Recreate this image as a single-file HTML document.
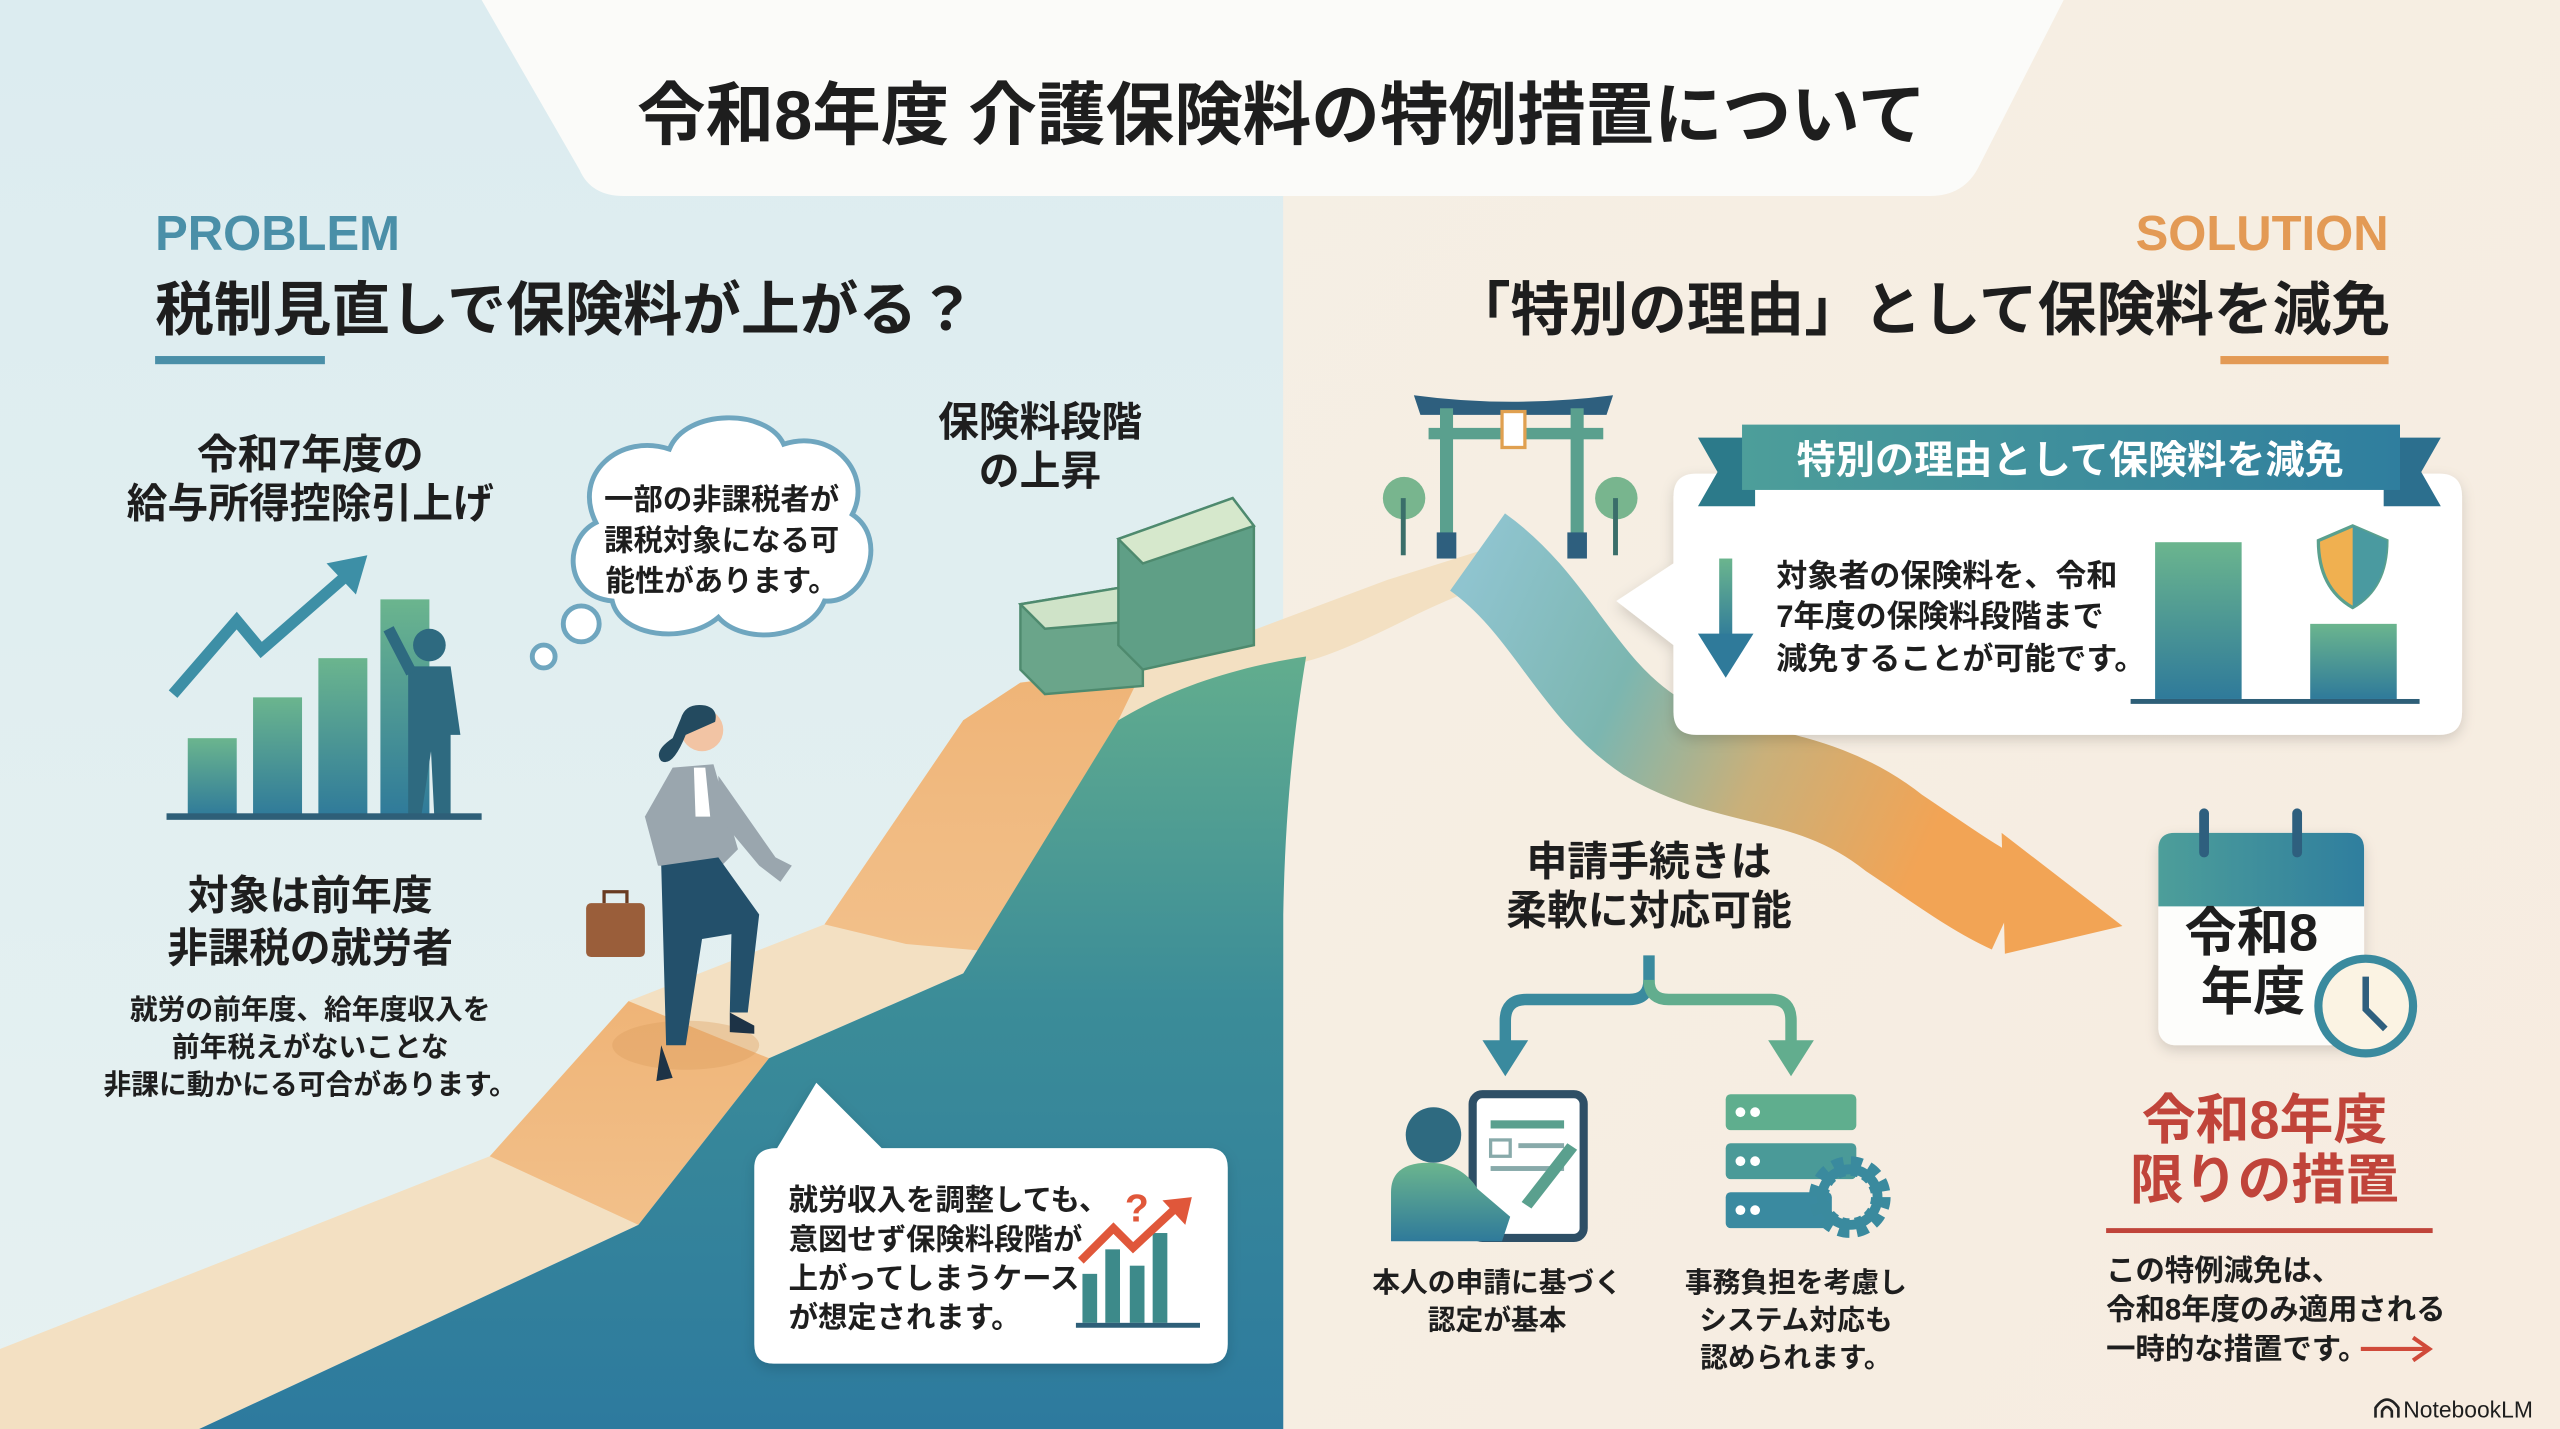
<!DOCTYPE html>
<html><head><meta charset="utf-8"><style>
html,body{margin:0;padding:0;width:2560px;height:1429px;overflow:hidden;background:#f5eee3}
svg{display:block}
text{font-family:"Liberation Sans","Noto Sans CJK JP",sans-serif;font-weight:700;fill:#1e1e1e}
</style></head><body>
<svg width="2560" height="1429" viewBox="0 0 1568 875" preserveAspectRatio="none" xmlns="http://www.w3.org/2000/svg">
<defs>
<linearGradient id="lbg" x1="0" y1="0" x2="0" y2="1"><stop offset="0" stop-color="#dcecf0"/><stop offset="1" stop-color="#e6f1f1"/></linearGradient>
<linearGradient id="rbg" x1="0" y1="0" x2="1" y2="1"><stop offset="0" stop-color="#f5efe4"/><stop offset="1" stop-color="#f7ece0"/></linearGradient>
<linearGradient id="mtn" x1="0" y1="0" x2="0" y2="1"><stop offset="0" stop-color="#62ad8e"/><stop offset="0.45" stop-color="#3b8c98"/><stop offset="1" stop-color="#2d7a9e"/></linearGradient>
<linearGradient id="bar" x1="0" y1="0" x2="0" y2="1"><stop offset="0" stop-color="#6bb58e"/><stop offset="1" stop-color="#2f7a9a"/></linearGradient>
<linearGradient id="rib" x1="0" y1="0" x2="1" y2="0.3"><stop offset="0" stop-color="#8fc4cf"/><stop offset="0.35" stop-color="#7cb6b0"/><stop offset="0.65" stop-color="#c9b07a"/><stop offset="1" stop-color="#f2a455"/></linearGradient>
<linearGradient id="ban" x1="0" y1="0" x2="1" y2="0"><stop offset="0" stop-color="#4d9e9a"/><stop offset="1" stop-color="#2f7e9e"/></linearGradient>
<linearGradient id="org" x1="0" y1="0" x2="0" y2="1"><stop offset="0" stop-color="#efb477"/><stop offset="1" stop-color="#f2c08a"/></linearGradient>
<filter id="sh" x="-10%" y="-10%" width="120%" height="130%"><feDropShadow dx="0" dy="3" stdDeviation="4" flood-color="#000" flood-opacity="0.15"/></filter>
</defs>
<rect x="0" y="0" width="786" height="875" fill="url(#lbg)"/>
<rect x="786" y="0" width="782" height="875" fill="url(#rbg)"/>
<path d="M295 0 L1264 0 L1212 102 Q1203 120 1182 120 L382 120 Q362 120 355 104 Z" fill="#fbfbf9"/>
<text x="785" y="85" font-size="42" text-anchor="middle" fill="#111">令和8年度 介護保険料の特例措置について</text>

<path d="M0 826 L300 708 L385 613 L505 566 L590 441 L625 418 L700 405 L770 385 L850 355 L930 330 L948 345 Q900 360 860 380 Q820 400 800 405 L786 420 L685 441 L590 596 L471 648 L391 750 L122 875 L0 875 Z" fill="#f3e0c2"/>
<path d="M300 708 L385 613 L471 648 L391 750 Z" fill="url(#org)"/>
<path d="M505 566 L590 441 L625 418 L700 410 L685 441 L600 582 L555 578 Z" fill="url(#org)"/>
<path d="M122 875 L391 750 L471 648 L590 596 L685 441 C720 420 760 408 800 402 C792 450 787 500 786 560 L786 875 Z" fill="url(#mtn)"/>
<path d="M905 338 C950 370 965 420 1010 450 C1060 480 1110 470 1160 510 C1190 530 1210 545 1232 555" fill="none" stroke="url(#rib)" stroke-width="58" stroke-linecap="butt"/>
<path d="M1226 510 L1300 567 L1228 584 Z" fill="#f2a455"/>

<text x="95" y="153" font-size="30" style="fill:#4a8fa8">PROBLEM</text>
<text x="95" y="202" font-size="36">税制見直しで保険料が上がる？</text>
<rect x="95" y="218" width="104" height="5" fill="#4a8fa8"/>
<text x="1463" y="153" font-size="30" style="fill:#e39a55" text-anchor="end">SOLUTION</text>
<text x="1464" y="202" font-size="36" text-anchor="end">「特別の理由」として保険料を減免</text>
<rect x="1360" y="218" width="103" height="5" fill="#e39a55"/>

<text x="190" y="287" font-size="25" text-anchor="middle">令和7年度の</text>
<text x="190" y="317" font-size="25" text-anchor="middle">給与所得控除引上げ</text>
<rect x="115" y="452" width="30" height="48" fill="url(#bar)"/>
<rect x="155" y="427" width="30" height="73" fill="url(#bar)"/>
<rect x="195" y="403" width="30" height="97" fill="url(#bar)"/>
<rect x="233" y="367" width="30" height="133" fill="url(#bar)"/>
<path d="M106 425 L145 380 L160 398 L215 350" fill="none" stroke="#3d8fa6" stroke-width="7"/>
<path d="M200 345 L225 340 L218 364 Z" fill="#3d8fa6"/>
<circle cx="263" cy="395" r="10" fill="#2e6a80"/>
<path d="M250 408 L276 408 L282 450 L276 450 L276 500 L266 500 L264 460 L258 500 L250 500 Z" fill="#2e6a80"/>
<path d="M252 412 L238 385" stroke="#2e6a80" stroke-width="7"/>
<rect x="102" y="498" width="193" height="4" fill="#2e5f78"/>

<g fill="#fff" stroke="#6fa6bf" stroke-width="3">
<path d="M365 320 C350 290 380 265 410 275 C420 250 470 250 480 272 C510 262 535 290 522 315 C545 330 530 370 505 368 C495 392 455 395 440 378 C420 395 380 390 375 368 C345 365 345 330 365 320 Z"/>
<circle cx="356" cy="382" r="11"/><circle cx="333" cy="402" r="7"/>
</g>
<text x="442" y="312" font-size="18" text-anchor="middle">一部の非課税者が</text>
<text x="442" y="337" font-size="18" text-anchor="middle">課税対象になる可</text>
<text x="442" y="362" font-size="18" text-anchor="middle">能性があります。</text>

<text x="637" y="267" font-size="25" text-anchor="middle">保険料段階</text>
<text x="637" y="297" font-size="25" text-anchor="middle">の上昇</text>
<g stroke="#4e8a6e" stroke-width="1.5">
<path d="M625 370 L685 360 L700 380 L700 420 L640 425 L625 410 Z" fill="#6aa58a"/>
<path d="M625 370 L685 360 L700 380 L640 385 Z" fill="#cfe3c8"/>
<path d="M685 330 L755 305 L768 322 L768 395 L700 410 L685 395 Z" fill="#5f9f86"/>
<path d="M685 330 L755 305 L768 322 L700 345 Z" fill="#d6e8cc"/>
</g>

<ellipse cx="420" cy="640" rx="45" ry="15" fill="#d99a5c" opacity="0.35"/>
<circle cx="430" cy="447" r="13" fill="#f2c4a4"/>
<path d="M417 440 Q420 430 432 432 Q440 434 438 442 L420 450 Q412 470 405 466 Q400 460 412 452 Z" fill="#234a5f"/>
<path d="M412 470 L437 468 L452 520 L440 532 L403 530 L395 500 Z" fill="#9aa6ae"/>
<path d="M425 470 L432 470 L435 500 L426 500 Z" fill="#fff"/>
<path d="M440 475 L475 525 L485 530 L478 540 L465 530 L440 500 Z" fill="#9aa6ae"/>
<path d="M405 530 L440 525 L465 560 L458 620 L447 620 L448 572 L430 575 L420 640 L408 640 Z" fill="#23506b"/>
<path d="M447 620 L462 628 L462 633 L447 632 Z M405 640 L412 660 L402 662 Z" fill="#1d3346"/>
<rect x="359" y="553" width="36" height="33" rx="3" fill="#9a5e3a"/>
<path d="M370 553 L370 546 L384 546 L384 553" fill="none" stroke="#6a3c22" stroke-width="2"/>

<text x="190" y="557" font-size="25" text-anchor="middle">対象は前年度</text>
<text x="190" y="589" font-size="25" text-anchor="middle">非課税の就労者</text>
<text x="190" y="624" font-size="17" text-anchor="middle">就労の前年度、給年度収入を</text>
<text x="190" y="647" font-size="17" text-anchor="middle">前年税えがないことな</text>
<text x="190" y="670" font-size="17" text-anchor="middle">非課に動かにる可合があります。</text>

<g filter="url(#sh)">
<path d="M476 703 L500 663 L540 703 L740 703 Q752 703 752 715 L752 823 Q752 835 740 835 L474 835 Q462 835 462 823 L462 715 Q462 703 476 703 Z" fill="#fff"/>
</g>
<text x="483" y="741" font-size="18">就労収入を調整しても、</text>
<text x="483" y="765" font-size="18">意図せず保険料段階が</text>
<text x="483" y="789" font-size="18">上がってしまうケース</text>
<text x="483" y="813" font-size="18">が想定されます。</text>
<rect x="663" y="780" width="9" height="30" fill="#3d8a8a"/><rect x="677" y="765" width="9" height="45" fill="#3d8a8a"/><rect x="692" y="775" width="9" height="35" fill="#3d8a8a"/><rect x="706" y="755" width="9" height="55" fill="#3d8a8a"/>
<rect x="659" y="810" width="76" height="3" fill="#2e5f78"/>
<path d="M662 772 L682 752 L694 764 L722 738" fill="none" stroke="#e0573a" stroke-width="5"/>
<path d="M712 735 L730 733 L726 750 Z" fill="#e0573a"/>
<text x="689" y="748" font-size="24" style="fill:#e0573a">?</text>

<circle cx="860" cy="305" r="13" fill="#78b58e"/><rect x="858" y="305" width="3" height="35" fill="#3a6e6a"/>
<circle cx="990" cy="305" r="13" fill="#78b58e"/><rect x="988" y="305" width="3" height="35" fill="#3a6e6a"/>
<path d="M866 242 Q925 250 988 242 L984 254 L870 254 Z" fill="#2e5f7e"/>
<rect x="875" y="262" width="107" height="7" fill="#5aa08e"/>
<rect x="882" y="250" width="8" height="82" fill="#5aa08e"/><rect x="962" y="250" width="8" height="82" fill="#5aa08e"/>
<rect x="920" y="252" width="14" height="22" fill="#fff" stroke="#e0a050" stroke-width="2"/>
<rect x="880" y="326" width="12" height="16" fill="#2e5f7e"/><rect x="960" y="326" width="12" height="16" fill="#2e5f7e"/>

<g filter="url(#sh)">
<path d="M1039 290 L1494 290 Q1508 290 1508 304 L1508 436 Q1508 450 1494 450 L1039 450 Q1025 450 1025 436 L1025 395 L990 368 L1025 345 L1025 304 Q1025 290 1039 290 Z" fill="#fff"/>
</g>
<path d="M1040 268 L1075 268 L1075 310 L1040 310 L1052 289 Z" fill="#2c7a8a"/>
<path d="M1495 268 L1460 268 L1460 310 L1495 310 L1483 289 Z" fill="#2c6f8e"/>
<rect x="1067" y="260" width="403" height="40" fill="url(#ban)"/>
<text x="1268" y="290" font-size="24" text-anchor="middle" style="fill:#fff">特別の理由として保険料を減免</text>
<rect x="1053" y="342" width="8" height="50" fill="url(#bar)"/>
<path d="M1040 388 L1074 388 L1057 415 Z" fill="#2f7a9a"/>
<text x="1088" y="359" font-size="19">対象者の保険料を、令和</text>
<text x="1088" y="384" font-size="19">7年度の保険料段階まで</text>
<text x="1088" y="410" font-size="19">減免することが可能です。</text>
<rect x="1320" y="332" width="53" height="96" fill="url(#bar)"/>
<rect x="1415" y="382" width="53" height="46" fill="url(#bar)"/>
<path d="M1441 322 L1462 331 Q1462 360 1441 372 Q1420 360 1420 331 Z" fill="#f0b050" stroke="#5aa08e" stroke-width="2"/>
<path d="M1441 322 L1462 331 Q1462 360 1441 372 Z" fill="#4a9aa0"/>
<rect x="1305" y="428" width="177" height="3" fill="#2e5f78"/>

<text x="1010" y="536" font-size="25" text-anchor="middle">申請手続きは</text>
<text x="1010" y="566" font-size="25" text-anchor="middle">柔軟に対応可能</text>
<path d="M1010 585 L1010 600 Q1010 612 998 612 L935 612 Q922 612 922 625 L922 640" fill="none" stroke="#3a8a9e" stroke-width="7"/>
<path d="M1010 600 Q1010 612 1022 612 L1085 612 Q1097 612 1097 625 L1097 640" fill="none" stroke="#62ad8e" stroke-width="7"/>
<path d="M908 637 L936 637 L922 659 Z" fill="#3a8a9e"/><path d="M1083 637 L1111 637 L1097 659 Z" fill="#62ad8e"/>
<rect x="902" y="670" width="68" height="88" rx="6" fill="#fff" stroke="#2e4f66" stroke-width="5"/>
<rect x="913" y="686" width="45" height="5" fill="#5aa08e"/><rect x="913" y="698" width="12" height="10" fill="none" stroke="#8aa" stroke-width="2"/><rect x="930" y="700" width="28" height="3" fill="#8aa"/><rect x="913" y="714" width="45" height="3" fill="#8aa"/>
<path d="M960 700 L966 704 L938 740 L932 736 Z" fill="#5aa08e"/>
<circle cx="878" cy="695" r="17" fill="#2e6a80"/>
<path d="M852 760 L852 730 Q852 712 875 712 Q895 712 905 728 L925 745 L920 760 Z" fill="url(#bar)"/>
<rect x="1057" y="670" width="80" height="22" rx="3" fill="#5fae8e"/>
<rect x="1057" y="700" width="80" height="22" rx="3" fill="#4a9a98"/>
<rect x="1057" y="730" width="65" height="22" rx="3" fill="#3a8aa0"/>
<circle cx="1066" cy="681" r="3" fill="#fff"/><circle cx="1075" cy="681" r="3" fill="#fff"/><circle cx="1066" cy="711" r="3" fill="#fff"/><circle cx="1075" cy="711" r="3" fill="#fff"/><circle cx="1066" cy="741" r="3" fill="#fff"/><circle cx="1075" cy="741" r="3" fill="#fff"/>
<circle cx="1133" cy="733" r="19" fill="none" stroke="#3a8a9e" stroke-width="12" stroke-dasharray="6 4"/>
<circle cx="1133" cy="733" r="17" fill="none" stroke="#3a8a9e" stroke-width="6"/>
<text x="917" y="791" font-size="17" text-anchor="middle">本人の申請に基づく</text>
<text x="917" y="814" font-size="17" text-anchor="middle">認定が基本</text>
<text x="1100" y="791" font-size="17" text-anchor="middle">事務負担を考慮し</text>
<text x="1100" y="814" font-size="17" text-anchor="middle">システム対応も</text>
<text x="1100" y="837" font-size="17" text-anchor="middle">認められます。</text>

<g filter="url(#sh)">
<rect x="1322" y="510" width="126" height="130" rx="10" fill="#fdfdfb"/>
</g>
<path d="M1322 555 L1322 520 Q1322 510 1332 510 L1438 510 Q1448 510 1448 520 L1448 555 Z" fill="url(#ban)"/>
<rect x="1347" y="495" width="6" height="30" rx="3" fill="#2e5f7e"/><rect x="1404" y="495" width="6" height="30" rx="3" fill="#2e5f7e"/>
<text x="1338" y="582" font-size="32">令和8</text>
<text x="1348" y="618" font-size="32">年度</text>
<circle cx="1449" cy="616" r="29" fill="#fbf3e3" stroke="#3a8a9e" stroke-width="5"/>
<path d="M1449 598 L1449 618 L1461 630" fill="none" stroke="#2e5f7e" stroke-width="4"/>
<text x="1387" y="697" font-size="33" text-anchor="middle" style="fill:#c0443a">令和8年度</text>
<text x="1387" y="734" font-size="33" text-anchor="middle" style="fill:#c0443a">限りの措置</text>
<rect x="1290" y="752" width="200" height="3" fill="#c0443a"/>
<text x="1290" y="784" font-size="18">この特例減免は、</text>
<text x="1290" y="808" font-size="18">令和8年度のみ適用される</text>
<text x="1290" y="832" font-size="18">一時的な措置です。</text>
<path d="M1446 826 L1487 826 M1478 819 L1488 826 L1478 833" fill="none" stroke="#d04a3a" stroke-width="2.5"/>
<text x="1472" y="868" font-size="14" style="font-weight:400">NotebookLM</text>
<path d="M1455 868 L1455 862 Q1462 852 1469 862 L1469 868 M1459 868 L1459 864 Q1462 859 1465 864 L1465 868" fill="none" stroke="#222" stroke-width="1.6"/>
</svg>
</body></html>
